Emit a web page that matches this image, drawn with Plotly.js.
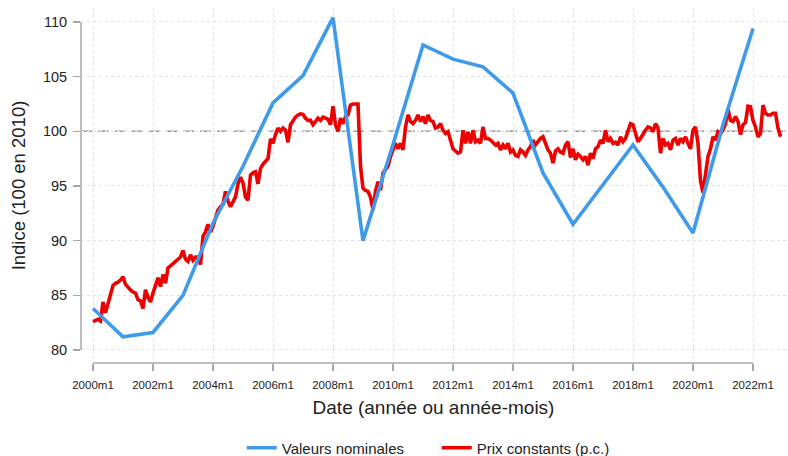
<!DOCTYPE html>
<html>
<head>
<meta charset="utf-8">
<script src="https://cdn.plot.ly/plotly-3.0.1.min.js"></script>
<style>html,body{margin:0;padding:0;background:#fff;}#chart{width:788px;height:456px;}</style>
</head>
<body>
<div id="chart"></div>
<script>
// Annual nominal index (2000..2022)
const nominalYears = [2000,2001,2002,2003,2004,2005,2006,2007,2008,2009,2010,2011,2012,2013,2014,2015,2016,2017,2018,2019,2020,2021,2022];
const nominalValues = [83.8,81.2,81.6,85.0,91.6,96.8,102.6,105.1,110.4,90.0,98.8,107.9,106.6,105.9,103.5,96.2,91.5,95.1,98.75,94.9,90.7,100.6,109.4];

// Monthly constant-price index, from 2000m1, one row per year
const constantStart = 2000;
const constantValues = [
  82.6,82.7,82.8,82.65,84.4,83.4,84.3,85.0,85.9,86.1,86.2,86.4,
  86.7,86.0,85.7,85.5,85.3,85.2,84.6,84.5,83.8,85.5,84.8,84.4,
  85.2,85.8,86.6,85.8,86.9,86.1,87.5,87.7,87.9,88.1,88.4,88.5,
  89.1,88.3,88.1,88.7,88.2,88.5,88.5,87.8,90.4,90.8,91.5,90.8,
  91.3,92.2,92.8,93.1,93.3,94.5,93.6,93.1,93.5,94.0,95.2,95.8,
  95.3,94.0,93.7,96.0,96.2,96.3,95.2,96.6,97.0,97.2,97.5,99.3,
  98.9,99.7,100.3,100.0,100.3,100.1,99.0,100.6,101.0,101.3,101.5,101.6,
  101.55,101.2,101.0,101.0,100.6,100.9,101.2,101.0,101.3,101.2,101.1,100.6,
  102.3,100.6,100.0,101.2,100.7,101.35,101.5,102.4,102.5,102.5,102.5,96.8,
  94.8,94.6,94.5,94.0,92.8,94.5,95.4,94.6,96.2,96.5,96.8,97.7,
  98.4,98.9,98.4,98.9,98.3,100.4,101.5,100.9,100.7,101.0,101.5,100.9,
  101.35,100.7,101.5,101.0,100.9,100.3,100.4,100.7,100.1,99.8,99.96,99.1,
  98.4,98.2,98.0,98.1,100.1,98.9,99.96,98.9,100.1,99.05,99.2,98.9,
  100.4,99.35,99.35,99.2,99.0,98.75,98.9,98.3,98.75,98.4,98.9,98.1,
  98.3,97.8,97.7,98.3,98.1,97.8,98.3,98.6,99.2,98.75,99.05,99.35,
  99.5,98.9,98.3,98.0,97.1,98.2,98.4,98.1,98.0,98.75,99.05,97.6,
  98.4,97.4,97.9,97.7,97.4,97.7,96.9,98.0,97.5,98.4,98.6,99.2,
  98.9,100.1,99.05,99.35,98.9,99.0,98.75,99.5,99.05,99.35,99.96,100.7,
  100.6,99.8,99.05,99.35,99.8,100.1,100.4,100.3,99.96,100.7,100.3,98.0,
  99.35,98.75,98.9,98.3,99.2,99.35,98.75,99.35,99.05,99.5,98.9,98.4,
  100.1,100.4,98.9,95.5,94.4,96.2,97.7,98.4,99.5,99.2,99.96,99.8,
  100.1,100.7,102.0,101.0,100.9,101.35,100.9,99.7,100.6,100.8,102.3,102.25,
  101.0,100.4,99.5,99.8,102.4,101.65,101.5,101.5,101.65,101.65,100.3,99.5
];
const constantDates = constantValues.map((v, i) => constantStart + i / 12);

const xTickVals = [2000,2002,2004,2006,2008,2010,2012,2014,2016,2018,2020,2022];
const xTickText = ['2000m1','2002m1','2004m1','2006m1','2008m1','2010m1','2012m1','2014m1','2016m1','2018m1','2020m1','2022m1'];
const yTickVals = [80,85,90,95,100,105,110];
const refLevel = 100;

const xRange = [1999.6, 2023.1];
const yRange = [78.81, 111.28];
const FONT = '"Liberation Sans", Arial, Helvetica, sans-serif';
const AXIS_COLOR = '#a8a8a8';

const traces = [
  {
    x: constantDates, y: constantValues, type: 'scatter', mode: 'lines',
    name: 'Prix constants (p.c.)', legendrank: 2,
    line: {color: '#ee0000', width: 3.6}
  },
  {
    x: nominalYears, y: nominalValues, type: 'scatter', mode: 'lines',
    name: 'Valeurs nominales', legendrank: 1,
    line: {color: '#3f9be9', width: 3.6}
  }
];

const px = v => (v - xRange[0]) / (xRange[1] - xRange[0]);
const py = v => (v - yRange[0]) / (yRange[1] - yRange[0]);

const layout = {
  width: 788, height: 456,
  margin: {l: 81, r: 2, t: 8, b: 93, autoexpand: false},
  paper_bgcolor: '#fff', plot_bgcolor: '#fff',
  font: {family: FONT, color: '#222'},
  showlegend: true,
  legend: {
    orientation: 'h', x: 0.228, xanchor: 'left', y: -0.2394, yanchor: 'middle',
    font: {size: 15, family: FONT, color: '#222'},
    itemwidth: 30, entrywidth: 150
  },
  xaxis: {
    range: xRange, tickvals: xTickVals, ticktext: xTickText,
    ticks: 'outside', ticklen: 7, tickcolor: AXIS_COLOR, tickwidth: 1.3,
    tickfont: {size: 11.5, family: FONT, color: '#222'},
    ticklabelstandoff: 4, automargin: false,
    showline: false, zeroline: false,
    showgrid: true, gridcolor: '#e2e2e2', griddash: 'dot', gridwidth: 1,
    title: {text: 'Date (année ou année-mois)', font: {size: 19, family: FONT, color: '#222'}, standoff: 10}
  },
  yaxis: {
    range: yRange, tickvals: yTickVals,
    ticks: 'outside', ticklen: 7, tickcolor: AXIS_COLOR, tickwidth: 1.3,
    tickfont: {size: 14.5, family: FONT, color: '#222'},
    ticklabelstandoff: 3, automargin: false,
    showline: false, zeroline: false,
    showgrid: true, gridcolor: '#e2e2e2', griddash: 'dot', gridwidth: 1,
    title: {text: 'Indice (100 en 2010)', font: {size: 18.5, family: FONT, color: '#222'}, standoff: 12}
  },
  shapes: [
    {type: 'line', xref: 'paper', yref: 'paper', x0: 0, x1: 0, y0: py(yTickVals[0]), y1: py(yTickVals[yTickVals.length-1]),
     line: {color: AXIS_COLOR, width: 1.5}},
    {type: 'line', xref: 'paper', yref: 'paper', x0: px(xTickVals[0]), x1: px(xTickVals[xTickVals.length-1]), y0: 0, y1: 0,
     line: {color: AXIS_COLOR, width: 1.5}},
    {type: 'line', xref: 'x', yref: 'y', x0: xRange[0], x1: xRange[1], y0: refLevel, y1: refLevel, layer: 'below',
     line: {color: '#999999', width: 1.5, dash: '11px,6px'}}
  ]
};

Plotly.newPlot('chart', traces, layout, {displayModeBar: false, staticPlot: true});
</script>
</body>
</html>
